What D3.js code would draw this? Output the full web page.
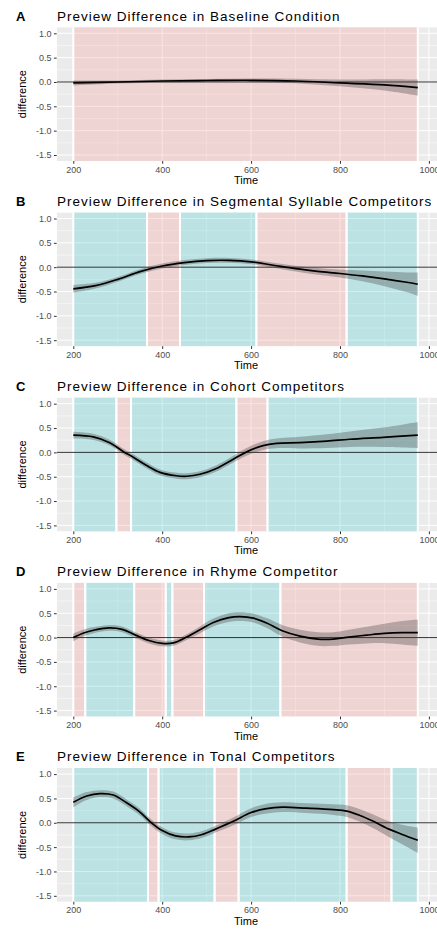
<!DOCTYPE html>
<meta charset="utf-8">
<style>
	body {
	margin: 0;
	background-color: #fff;
	}
	text {
	font-family: "Liberation Sans", Arial, sans-serif;
	}
	.title {
	font-size: 13.5px;
	letter-spacing: 1px;
	fill: #000;
	}
	.tag {
	font-size: 13px;
	font-weight: bold;
	fill: #000;
	}
	.axis text {
	font-size: 9px;
	fill: #4d4d4d;
	}
	.axis line {
	stroke: #333;
	}
	.axis path {
	display: none;
	}
	.axis-title {
	font-size: 11px;
	fill: #000;
	}
	.grid-major {
	stroke: #fff;
	stroke-width: 1;
	}
	.grid-minor {
	stroke: #fff;
	stroke-width: 0.5;
	}
	.band {
	stroke: #fff;
	stroke-width: 2;
	}
	.ribbon {
	fill: #404040;
	opacity: .33;
	}
	.smooth {
	fill: none;
	stroke: #000;
	stroke-width: 1.7;
	}
	.zero {
	stroke: #000;
	stroke-width: .8;
	}
</style>
<body>
	<script src="https://cdn.jsdelivr.net/npm/d3@7"></script>
	<script>
		var width = 437,
		    height = 930;

		var tags = ["A", "B", "C", "D", "E"];
		var titles = [
		  "Preview Difference in Baseline Condition",
		  "Preview Difference in Segmental Syllable Competitors",
		  "Preview Difference in Cohort Competitors",
		  "Preview Difference in Rhyme Competitor",
		  "Preview Difference in Tonal Competitors"
		];

		var yTicks = [-1.5, -1.0, -0.5, 0.0, 0.5, 1.0];
		var yMinor = [-1.25, -0.75, -0.25, 0.25, 0.75];
		var xTicks = [200, 400, 600, 800, 1000];
		var xMinor = [300, 500, 700, 900];

		// smooth estimate (mean) and half width of the confidence band
		var timeA = [200, 300, 400, 500, 600, 700, 800, 900, 975];
		var meanA = [-0.02, 0.0, 0.02, 0.03, 0.035, 0.02, -0.02, -0.06, -0.115];
		var ciA   = [0.05, 0.03, 0.03, 0.03, 0.035, 0.045, 0.07, 0.115, 0.165];

		var timeB = [200, 250, 300, 350, 400, 450, 500, 550, 600, 650, 700, 750, 800, 850, 900, 950, 975];
		var meanB = [-0.445, -0.38, -0.25, -0.09, 0.025, 0.095, 0.135, 0.14, 0.11, 0.04, -0.03, -0.085, -0.13, -0.18, -0.24, -0.31, -0.35];
		var ciB   = [0.08, 0.06, 0.05, 0.05, 0.05, 0.05, 0.05, 0.05, 0.05, 0.05, 0.06, 0.07, 0.08, 0.11, 0.15, 0.2, 0.24];

		var timeC = [200, 245, 282, 312, 335, 365, 395, 432, 455, 485, 522, 560, 590, 627, 657, 710, 770, 822, 897, 975];
		var meanC = [0.356, 0.32, 0.2, 0.02, -0.1, -0.27, -0.41, -0.48, -0.49, -0.45, -0.33, -0.14, 0.01, 0.14, 0.185, 0.2, 0.23, 0.27, 0.31, 0.356];
		var ciC   = [0.07, 0.065, 0.06, 0.06, 0.06, 0.06, 0.06, 0.06, 0.06, 0.06, 0.065, 0.07, 0.08, 0.09, 0.1, 0.12, 0.14, 0.16, 0.2, 0.27];

		var timeD = [200, 225, 250, 280, 310, 340, 370, 400, 425, 455, 485, 515, 550, 575, 605, 635, 670, 710, 750, 785, 820, 860, 900, 940, 975];
		var meanD = [0.0, 0.1, 0.16, 0.2, 0.17, 0.05, -0.06, -0.12, -0.11, 0.01, 0.16, 0.31, 0.41, 0.43, 0.4, 0.3, 0.14, 0.03, -0.03, -0.03, 0.01, 0.05, 0.085, 0.1, 0.1];
		var ciD   = [0.08, 0.07, 0.06, 0.06, 0.06, 0.06, 0.06, 0.06, 0.06, 0.06, 0.07, 0.08, 0.09, 0.09, 0.09, 0.1, 0.12, 0.13, 0.14, 0.14, 0.15, 0.17, 0.2, 0.24, 0.27];

		var timeE = [200, 230, 260, 290, 320, 350, 372, 400, 430, 460, 490, 520, 560, 600, 635, 670, 725, 785, 815, 845, 875, 910, 940, 975];
		var meanE = [0.42, 0.55, 0.6, 0.57, 0.41, 0.22, 0.03, -0.16, -0.27, -0.29, -0.24, -0.13, 0.03, 0.21, 0.29, 0.32, 0.3, 0.27, 0.24, 0.15, 0.03, -0.13, -0.24, -0.36];
		var ciE   = [0.1, 0.08, 0.07, 0.07, 0.07, 0.07, 0.07, 0.07, 0.07, 0.07, 0.07, 0.07, 0.08, 0.09, 0.1, 0.1, 0.1, 0.11, 0.12, 0.13, 0.14, 0.16, 0.2, 0.26];

		// shaded windows: breaks between windows and the kind of each window
		var breaksA = [200, 975];
		var kindsA  = ["ns"];
		var breaksB = [200, 366, 440, 612, 815, 975];
		var kindsB  = ["sig", "ns", "sig", "ns", "sig"];
		var breaksC = [200, 297, 330, 567, 637, 975];
		var kindsC  = ["sig", "ns", "sig", "ns", "sig"];
		var breaksD = [200, 227, 337, 408, 423, 494, 666, 975];
		var kindsD  = ["ns", "sig", "ns", "sig", "ns", "sig", "ns"];
		var breaksE = [200, 368, 392, 518, 572, 815, 916, 975];
		var kindsE  = ["sig", "ns", "sig", "ns", "sig", "ns", "sig"];

		var kindColor = { sig: "#00BFC4", ns: "#F8766D" };

		var panels = [
		  { time: timeA, mean: meanA, ci: ciA, breaks: breaksA, kinds: kindsA },
		  { time: timeB, mean: meanB, ci: ciB, breaks: breaksB, kinds: kindsB },
		  { time: timeC, mean: meanC, ci: ciC, breaks: breaksC, kinds: kindsC },
		  { time: timeD, mean: meanD, ci: ciD, breaks: breaksD, kinds: kindsD },
		  { time: timeE, mean: meanE, ci: ciE, breaks: breaksE, kinds: kindsE }
		];

		var step = 185.2,
		    plotLeft = 56.7,
		    plotRight = 445,
		    plotTop = 27.2,
		    plotBottom = 161;

		var x = d3.scaleLinear()
		    .domain([200, 800])
		    .range([73.3, 340]);

		var y = d3.scaleLinear()
		    .domain([-1.5, 1.0])
		    .range([155, 33.3]);

		var svg = d3.select("body").append("svg")
		            .attr("width", width)
		            .attr("height", height);

		svg.append("defs").append("clipPath")
		    .attr("id", "plotclip")
		  .append("rect")
		    .attr("x", plotLeft)
		    .attr("y", plotTop)
		    .attr("width", plotRight - plotLeft)
		    .attr("height", plotBottom - plotTop);

		panels.forEach(function(p, i) {
		  var g = svg.append("g")
		      .attr("transform", "translate(0," + (i * step) + ")");

		  var rows = p.time.map(function(t, k) {
		    return { t: t, m: p.mean[k], lo: p.mean[k] - p.ci[k], hi: p.mean[k] + p.ci[k] };
		  });

		  var plot = g.append("g").attr("clip-path", "url(#plotclip)");

		  plot.append("rect")
		      .attr("x", plotLeft)
		      .attr("y", plotTop)
		      .attr("width", plotRight - plotLeft)
		      .attr("height", plotBottom - plotTop)
		      .attr("fill", "#EBEBEB");

		  plot.selectAll(".gy-minor").data(yMinor)
		    .enter().append("line")
		      .attr("class", "grid-minor")
		      .attr("x1", plotLeft).attr("x2", plotRight)
		      .attr("y1", y).attr("y2", y);
		  plot.selectAll(".gx-minor").data(xMinor)
		    .enter().append("line")
		      .attr("class", "grid-minor")
		      .attr("y1", plotTop).attr("y2", plotBottom)
		      .attr("x1", x).attr("x2", x);
		  plot.selectAll(".gy-major").data(yTicks)
		    .enter().append("line")
		      .attr("class", "grid-major")
		      .attr("x1", plotLeft).attr("x2", plotRight)
		      .attr("y1", y).attr("y2", y);
		  plot.selectAll(".gx-major").data(xTicks)
		    .enter().append("line")
		      .attr("class", "grid-major")
		      .attr("y1", plotTop).attr("y2", plotBottom)
		      .attr("x1", x).attr("x2", x);

		  plot.selectAll(".band").data(p.kinds)
		    .enter().append("rect")
		      .attr("class", "band")
		      .attr("x", function(d, k) { return x(p.breaks[k]); })
		      .attr("width", function(d, k) { return x(p.breaks[k + 1]) - x(p.breaks[k]); })
		      .attr("y", plotTop - 5)
		      .attr("height", plotBottom - plotTop + 10)
		      .attr("fill", function(d) { return kindColor[d]; })
		      .attr("fill-opacity", 0.2);

		  plot.append("line")
		      .attr("class", "zero")
		      .attr("x1", plotLeft).attr("x2", plotRight)
		      .attr("y1", y(0)).attr("y2", y(0));

		  plot.append("path")
		      .datum(rows)
		      .attr("class", "ribbon")
		      .attr("d", d3.area()
		          .curve(d3.curveCatmullRom)
		          .x(function(d) { return x(d.t); })
		          .y0(function(d) { return y(d.lo); })
		          .y1(function(d) { return y(d.hi); }));

		  plot.append("path")
		      .datum(rows)
		      .attr("class", "smooth")
		      .attr("d", d3.line()
		          .curve(d3.curveCatmullRom)
		          .x(function(d) { return x(d.t); })
		          .y(function(d) { return y(d.m); }));

		  g.append("g")
		      .attr("class", "axis")
		      .attr("transform", "translate(" + plotLeft + ",0)")
		      .call(d3.axisLeft(y).tickValues(yTicks)
		          .tickFormat(function(d) { return d.toFixed(1); })
		          .tickSize(2.75).tickPadding(2.5));

		  g.append("g")
		      .attr("class", "axis")
		      .attr("transform", "translate(0," + plotBottom + ")")
		      .call(d3.axisBottom(x).tickValues(xTicks)
		          .tickFormat(d3.format("d"))
		          .tickSize(2.75).tickPadding(2.5));

		  g.append("text")
		      .attr("class", "axis-title")
		      .attr("x", 246)
		      .attr("y", 184)
		      .attr("text-anchor", "middle")
		      .text("Time");

		  g.append("text")
		      .attr("class", "axis-title")
		      .attr("transform", "translate(26," + ((plotTop + plotBottom) / 2) + ") rotate(-90)")
		      .attr("text-anchor", "middle")
		      .text("difference");

		  g.append("text")
		      .attr("class", "tag")
		      .attr("x", 16)
		      .attr("y", 20.7)
		      .text(tags[i]);

		  g.append("text")
		      .attr("class", "title")
		      .attr("x", 57)
		      .attr("y", 20.7)
		      .text(titles[i]);
		});
	</script>
